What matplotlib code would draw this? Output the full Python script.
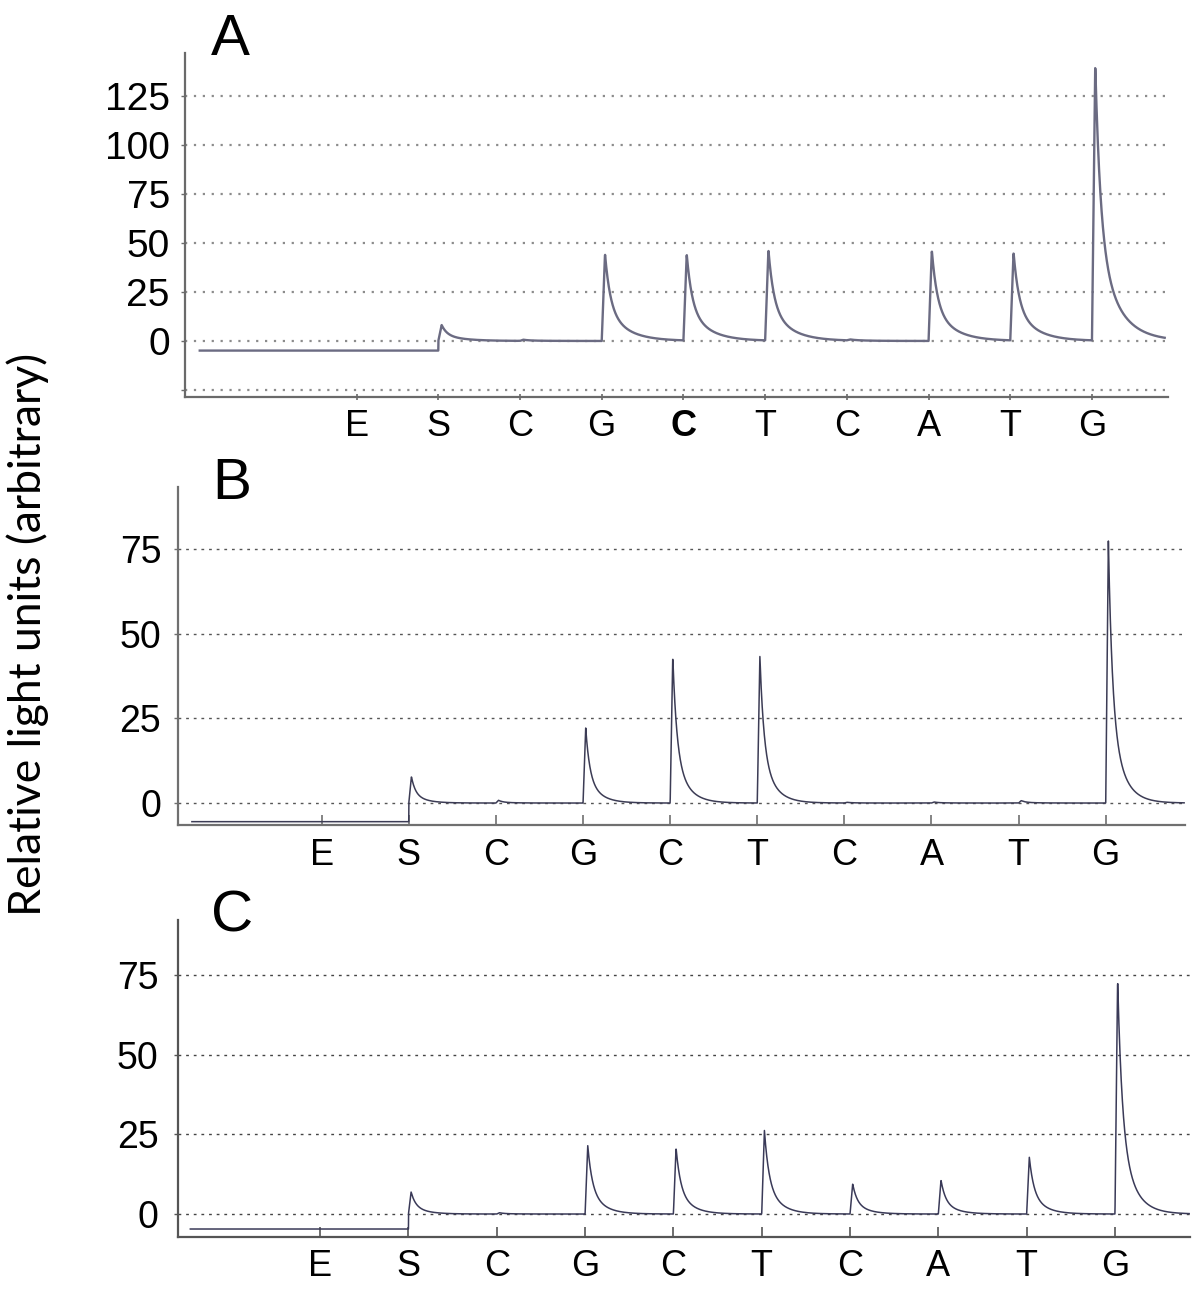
import numpy as np
import matplotlib
matplotlib.use('Agg')
import matplotlib.pyplot as plt

# ---------------- data ----------------
flows = ['E', 'S', 'C', 'G', 'C', 'T', 'C', 'A', 'T', 'G']
peaks_A = [0.0, 8.2, 0.6, 44.4, 44.0, 46.2, 0.5, 46.2, 44.9, 140.5]
peaks_B = [0.0, 7.8, 0.8, 22.4, 43.3, 43.3, 0.2, 0.3, 0.7, 77.9]
peaks_C = [0.0, 6.9, 0.4, 21.5, 20.7, 26.4, 9.4, 10.6, 17.8, 73.5]
pre_A, pre_B, pre_C = -4.9, -5.5, -4.7          # baseline before the S dispensation
yticks_A = [-25, 0, 25, 50, 75, 100, 125]
ylabels_A = ['', '0', '25', '50', '75', '100', '125']
yticks_BC = [0, 25, 50, 75]
ylabels_BC = ['0', '25', '50', '75']
panel_letters = ['A', 'B', 'C']
ylabel_text = 'Relative light units (arbitrary)'

# ---------------- helpers ----------------
def pyrogram(x, peaks, pre, t1, t2, a, rise):
    y = np.where(x < 1, pre, 0.0)
    for i, h in enumerate(peaks):
        if h == 0:
            continue
        t = x - i
        up = (t >= 0) & (t < rise)
        y = y + np.where(up, h * t / rise, 0.0)
        d = t - rise
        dc = np.clip(d, 0, None)
        dec = h * (a * np.exp(-dc / t1) + (1 - a) * np.exp(-dc / t2))
        y = y + np.where(d >= 0, dec, 0.0)
    return y

fig = plt.figure(figsize=(12, 12.95), dpi=100)
TICKFONT = 'Liberation Sans'

def style_axes(ax, spine_col, grid_col, grid_lw, dashes, ticklen, tickdir, xpad, ypad, yfs, xfs):
    for s in ['top', 'right']:
        ax.spines[s].set_visible(False)
    for s in ['left', 'bottom']:
        ax.spines[s].set_color(spine_col)
        ax.spines[s].set_linewidth(1.6)
    ax.set_xticks(range(len(flows)))
    ax.set_xticklabels(flows, fontsize=xfs, family=TICKFONT)
    ax.tick_params(axis='x', direction=tickdir, length=ticklen, width=1.2, color=spine_col, pad=xpad)
    ax.tick_params(axis='y', direction='out', length=3, width=1, color=spine_col, pad=ypad)
    for lab in ax.get_yticklabels():
        lab.set_fontsize(yfs)
        lab.set_family(TICKFONT)
    ax.yaxis.grid(True, color=grid_col, linewidth=grid_lw, linestyle=(0, dashes))
    ax.xaxis.grid(False)
    ax.set_axisbelow(True)

# ---------------- Panel A ----------------
axA = fig.add_axes([0.1542, 0.6934, 0.9733 - 0.1542, 0.9591 - 0.6934])
xA = np.linspace(-1.92, 9.89, 6000)
axA.plot(xA, pyrogram(xA, peaks_A, pre_A, 0.065, 0.24, 0.6, 0.04), color='#6b6b82', lw=1.7)
axA.set_xlim(-2.1, 9.93)
axA.set_ylim(-28.6, 146.9)
axA.set_yticks(yticks_A)
axA.set_yticklabels(ylabels_A)
style_axes(axA, '#6a6a6a', '#8c8c8c', 1.6, (1, 3), 5, 'inout', 6, 8, 28, 26)
axA.get_xticklabels()[4].set_fontweight('bold')

# ---------------- Panel B ----------------
axB = fig.add_axes([0.1483, 0.3629, 0.9875 - 0.1483, 0.6239 - 0.3629])
xB = np.linspace(-1.49, 9.9, 6000)
axB.plot(xB, pyrogram(xB, peaks_B, pre_B, 0.045, 0.14, 0.62, 0.03), color='#3c3c55', lw=1.1)
axB.set_xlim(-1.65, 9.91)
axB.set_ylim(-6.5, 93.3)
axB.set_yticks(yticks_BC)
axB.set_yticklabels(ylabels_BC)
style_axes(axB, '#707070', '#555555', 1.0, (2, 3.5), 7, 'in', 9, 9, 27, 26)

# ---------------- Panel C ----------------
axC = fig.add_axes([0.1483, 0.0448, 0.9917 - 0.1483, 0.2896 - 0.0448])
xC = np.linspace(-1.47, 9.84, 6000)
axC.plot(xC, pyrogram(xC, peaks_C, pre_C, 0.05, 0.15, 0.6, 0.03), color='#3a3a58', lw=1.1)
axC.set_xlim(-1.61, 9.85)
axC.set_ylim(-7.2, 92.2)
axC.set_yticks(yticks_BC)
axC.set_yticklabels(ylabels_BC)
style_axes(axC, '#555555', '#444444', 1.0, (2, 3.5), 7, 'in', 9, 11, 27, 26)

# ---------------- panel letters and y label ----------------
for letter, (px, py) in zip(panel_letters, [(230, 40), (232, 484), (232, 917)]):
    fig.text(px / 1200, 1 - py / 1295, letter, fontsize=42, family=TICKFONT,
             ha='center', va='center')

fig.text(28 / 1200, 1 - 634 / 1295, ylabel_text, rotation=90, fontsize=32,
         family='Lato', ha='center', va='center')

fig.savefig('out.png', dpi=100)
